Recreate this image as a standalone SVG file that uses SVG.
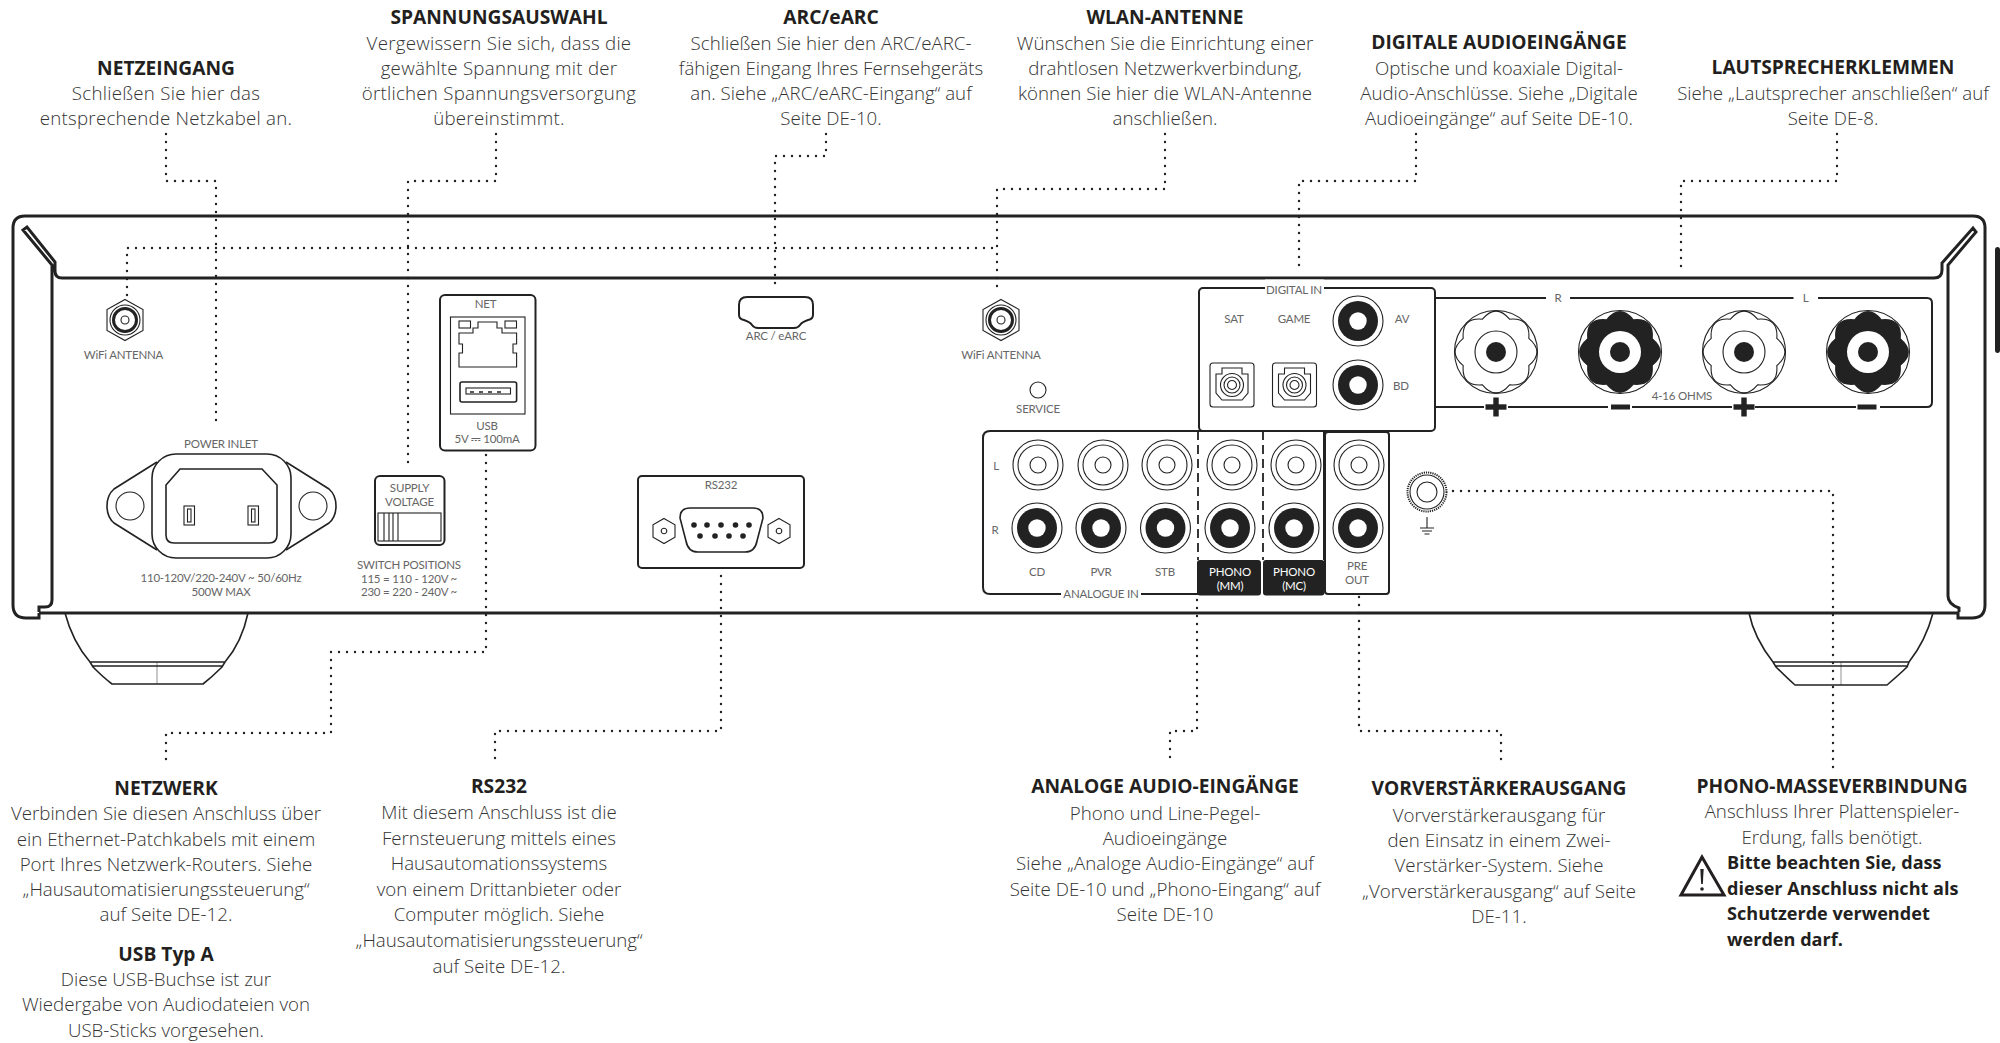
<svg xmlns="http://www.w3.org/2000/svg" width="2000" height="1043" viewBox="0 0 2000 1043">
<style>
text{font-family:"Open Sans","Noto Sans","Liberation Sans",sans-serif;text-anchor:middle}
.h{font-size:19.2px;font-weight:700;fill:#231f20}
.b{font-size:18.7px;font-weight:300;fill:#333}
.u{font-size:18.7px;font-weight:300;fill:#333;letter-spacing:.25px}
.w{font-size:18.1px;font-weight:700;fill:#231f20;text-anchor:start}
.s{font-family:"Lato","Liberation Sans",sans-serif;font-size:11.5px;fill:#666;font-weight:400;letter-spacing:-.2px}
.si{fill:#fff;font-weight:400}
.l{fill:none;stroke:#222;stroke-width:3}
.m{fill:none;stroke:#222;stroke-width:2}
.n{fill:none;stroke:#222;stroke-width:1.6}
.t{fill:none;stroke:#222;stroke-width:1.1}
.f{fill:#222;stroke:none}
.k{fill:#fff;stroke:none}
.d{fill:none;stroke:#222;stroke-width:2.4;stroke-linecap:round;stroke-dasharray:0 8}
</style>
<defs>
<g id="rcaW"><circle class="t" r="25"/><circle class="t" r="20"/><circle class="t" r="8"/></g>
<g id="rcaB"><circle class="t" r="25"/><circle class="f" r="20"/><circle class="k" r="8.7"/></g>
<path id="star" d="M32.8,-13.6Q49,0 32.8,13.6Q34.6,34.6 13.6,32.8Q0,49 -13.6,32.8Q-34.6,34.6 -32.8,13.6Q-49,0 -32.8,-13.6Q-34.6,-34.6 -13.6,-32.8Q0,-49 13.6,-32.8Q34.6,-34.6 32.8,-13.6Z"/>
<g id="termP"><circle class="t" r="41.5"/><use href="#star" class="t"/><circle class="t" r="21"/><circle class="f" r="10"/></g>
<g id="termN"><circle class="t" r="41.5"/><use href="#star" class="f"/><circle class="k" r="21"/><circle class="f" r="10"/></g>
<g id="plus"><rect class="f" x="-10.5" y="-2.7" width="21" height="5.4"/><rect class="f" x="-2.7" y="-9.5" width="5.4" height="19"/></g>
<rect id="minus" class="f" x="-9.5" y="-2.5" width="19" height="5"/>
<g id="wifi"><path class="t" d="M0,-20.5L18,-10.5V10.5L0,20.5L-18,10.5V-10.5Z"/><circle class="t" r="15"/><circle r="11.5" fill="none" stroke="#222" stroke-width="3"/><circle class="t" r="4"/></g>
<g id="opt"><rect class="t" x="-22" y="-22" width="44" height="44" rx="3"/><path class="t" d="M-10,-17H10V-11H16V8L10,15H-10L-16,8V-11H-10Z"/><circle class="t" r="11.5"/><circle class="t" r="8"/><circle class="t" r="4.5"/></g>
<g id="scr"><path class="t" d="M0,-12.5L11,-6.2V6.2L0,12.5L-11,6.2V-6.2Z"/><circle class="t" r="2.8"/></g>
</defs>

<g id="chassis">
<path class="n" d="M65,613C70,632 78,648 90,662H225C237,648 244,632 248,613M93,666H222M90,662L93,667C98,672 104,678 112,684H203C212,677 217,672 222,667L225,662"/>
<path class="n" d="M1749,613C1753,632 1762,648 1773,662H1909C1920,648 1928,632 1933,613M1776,666H1907M1773,662L1776,667C1782,673 1788,679 1795,685H1887C1894,679 1901,673 1907,667L1909,662"/>
<path d="M157,662V684M1841,662V685" stroke="#222" stroke-width=".5" fill="none"/>
<path class="l" d="M39,613V618H26Q13,618 13,605V228Q13,216 25,216H1973Q1985,216 1985,228V605Q1985,618 1972,618H1958V612"/>
<path class="l" d="M39,613H1958"/>
<path class="l" d="M39,612V607H45Q52,607 52,600V265L23,230L27,227L55,262V271Q55,278 62,278H1934Q1942,278 1942,270V263L1973,228L1976,232L1948,265V596Q1948,604 1959,608V612"/>
<rect x="1995" y="247" width="5" height="106" rx="3" fill="#222"/>
</g>

<g id="connectors">
<path class="d" d="M127,295V248H997"/>
<path class="d" d="M1165,134V189H997V291"/>
<path class="d" d="M166,134V181H216V427"/>
<path class="d" d="M496,134V181H408V463"/>
<path class="d" d="M826,134V156H775V291"/>
<path class="d" d="M1416,134V181H1299V272"/>
<path class="d" d="M1837,134V181H1681V273"/>
<path class="d" d="M486,455V652H331V733H166V765"/>
<path class="d" d="M721,576V731H495V765"/>
<path class="d" d="M1197,600V731H1170V765"/>
<path class="d" d="M1359,597V731H1501V763"/>
<path class="d" d="M1453,491H1833V768"/>
</g>

<g id="wifi-left"><use href="#wifi" x="125" y="320"/><text class="s" x="123.500" y="359">WiFi ANTENNA</text></g>
<g id="power-inlet">
<text class="s" x="221" y="448">POWER INLET</text>
<path class="n" d="M157,462L114,489Q107,495 107,506Q107,517 114,523L157,550M286,462L329,489Q336,495 336,506Q336,517 329,523L286,550"/>
<rect class="n" x="152" y="454" width="139" height="104" rx="24"/>
<path class="n" d="M180,469H262L277,485V535Q277,543 269,543H174Q166,543 166,535V485Z"/>
<circle class="t" cx="130" cy="506" r="14"/><circle class="t" cx="313" cy="506" r="14"/>
<rect class="t" x="184" y="506" width="10.500" height="19"/><rect class="t" x="187.500" y="509" width="3.500" height="13"/>
<rect class="t" x="248" y="506" width="10.500" height="19"/><rect class="t" x="251.500" y="509" width="3.500" height="13"/>
<text class="s" x="221" y="582">110-120V/220-240V ~ 50/60Hz</text><text class="s" x="221" y="596">500W MAX</text>
</g>
<g id="supply-voltage">
<rect class="m" x="375" y="476" width="69.500" height="69" rx="5"/>
<text class="s" x="409.500" y="492">SUPPLY</text><text class="s" x="409.500" y="506">VOLTAGE</text>
<rect class="t" x="378" y="513" width="63" height="28"/>
<path class="t" d="M384,513V541M389,513V541M393,513V541M398,513V541"/>
<text class="s" x="409" y="569">SWITCH POSITIONS</text><text class="s" x="409" y="583">115 = 110 - 120V ~</text><text class="s" x="409" y="596">230 = 220 - 240V ~</text>
</g>
<g id="net-usb">
<rect class="m" x="440" y="295" width="95.500" height="155.500" rx="5"/>
<text class="s" x="485.500" y="308">NET</text>
<rect class="t" x="450.500" y="317" width="74.500" height="97"/>
<path class="t" d="M459,333H473V328H478V322H497V328H502V333H516.600V344H513V353H516.600V367H459V353H462.500V344H459Z"/>
<rect class="t" x="459" y="321" width="11.500" height="7"/><rect class="t" x="505" y="321" width="11.500" height="7"/>
<rect class="n" x="460" y="382" width="56.600" height="20" rx="2"/>
<rect class="t" x="466" y="388" width="44.500" height="6"/>
<path d="M470,392H506" stroke="#222" stroke-width="1.500" stroke-dasharray="4 5" fill="none"/>
<text class="s" x="487" y="430">USB</text><text class="s" x="487" y="443">5V ⎓ 100mA</text>
</g>
<g id="hdmi">
<path class="m" d="M747,297H805Q813,297 813,305V315Q813,319 808,320Q802,322 800,325Q798,328 794,328H758Q754,328 752,325Q750,322 744,320Q739,319 739,315V305Q739,297 747,297Z"/>
<text class="s" x="776" y="340">ARC / eARC</text>
</g>
<g id="wifi-right"><use href="#wifi" x="1001" y="320"/><text class="s" x="1001" y="359">WiFi ANTENNA</text></g>
<g id="service"><circle class="t" cx="1038" cy="390" r="8"/><text class="s" x="1038" y="413">SERVICE</text></g>
<g id="rs232">
<rect class="m" x="638" y="476" width="166" height="92" rx="4"/>
<text class="s" x="721" y="489">RS232</text>
<use href="#scr" x="664" y="531"/><use href="#scr" x="779" y="531"/>
<path class="n" d="M690,508H753Q763,508 763,518L757,541Q755,552 745,552H698Q688,552 686,541L680,518Q680,508 690,508Z"/>
<g class="f"><circle cx="694" cy="525" r="2.800"/><circle cx="707" cy="525" r="2.800"/><circle cx="721" cy="525" r="2.800"/><circle cx="735.500" cy="525" r="2.800"/><circle cx="749" cy="525" r="2.800"/><circle cx="700" cy="536" r="2.800"/><circle cx="715" cy="536" r="2.800"/><circle cx="729" cy="536" r="2.800"/><circle cx="743" cy="536" r="2.800"/></g>
</g>
<g id="analogue-in">
<path class="m" d="M1198,594H990Q983,594 983,587V438Q983,431 990,431H1324V560"/>
<path d="M1198,431V560M1263,431V560" fill="none" stroke="#222" stroke-width="1.800" stroke-dasharray="9 5"/>
<rect class="k" x="1061" y="588" width="80" height="12"/>
<text class="s" x="1101" y="598">ANALOGUE IN</text>
<text class="s" x="996" y="470">L</text><text class="s" x="995" y="534">R</text>
<use href="#rcaW" x="1038" y="465"/><use href="#rcaW" x="1103" y="465"/><use href="#rcaW" x="1167" y="465"/><use href="#rcaW" x="1232" y="465"/><use href="#rcaW" x="1296" y="465"/>
<use href="#rcaB" x="1037" y="528"/><use href="#rcaB" x="1101" y="528"/><use href="#rcaB" x="1165.500" y="528"/><use href="#rcaB" x="1230" y="528"/><use href="#rcaB" x="1294" y="528"/>
<text class="s" x="1037" y="576">CD</text><text class="s" x="1101" y="576">PVR</text><text class="s" x="1165" y="576">STB</text>
<rect class="f" x="1197" y="560" width="64" height="35.500" rx="3"/><rect class="f" x="1263" y="560" width="61.500" height="35.500" rx="3"/>
<text class="s si" x="1230" y="576">PHONO</text><text class="s si" x="1230" y="590">(MM)</text>
<text class="s si" x="1294" y="576">PHONO</text><text class="s si" x="1294" y="590">(MC)</text>
</g>
<g id="pre-out">
<rect class="m" x="1325" y="432" width="64" height="162" rx="3"/>
<use href="#rcaW" x="1359" y="465"/><use href="#rcaB" x="1358" y="528"/>
<text class="s" x="1357" y="570">PRE</text><text class="s" x="1357" y="584">OUT</text>
</g>
<g id="digital-in">
<rect class="m" x="1199" y="288" width="236" height="143" rx="4"/>
<rect class="k" x="1265" y="279.500" width="59" height="16"/>
<text class="s" x="1294" y="294">DIGITAL IN</text>
<text class="s" x="1234" y="323">SAT</text><text class="s" x="1294" y="323">GAME</text><text class="s" x="1402" y="323">AV</text><text class="s" x="1401" y="390">BD</text>
<use href="#rcaB" x="1358" y="321"/><use href="#rcaB" x="1358" y="385"/>
<use href="#opt" x="1232" y="385"/><use href="#opt" x="1294.500" y="385"/>
</g>
<g id="speakers">
<path class="m" d="M1435,298H1546M1570,298H1793.500M1818,298H1927Q1932,298 1932,303V402Q1932,407 1927,407H1880M1856,407H1755M1732,407H1632M1608,407H1508M1484,407H1435"/>
<text class="s" x="1558" y="302">R</text><text class="s" x="1805.500" y="302">L</text>
<use href="#termP" x="1496" y="352"/><use href="#termN" x="1620" y="352"/><use href="#termP" x="1744" y="352"/><use href="#termN" x="1868" y="352"/>
<use href="#plus" x="1496" y="407"/><use href="#minus" x="1620.500" y="407"/><use href="#plus" x="1744" y="407"/><use href="#minus" x="1867" y="407"/>
<text class="s" x="1682" y="400">4-16 OHMS</text>
</g>
<g id="ground">
<circle cx="1427" cy="492" r="19.500" fill="none" stroke="#222" stroke-width="2" stroke-dasharray="1.200 1"/>
<circle class="t" cx="1427" cy="492" r="17"/><circle class="t" cx="1427" cy="492" r="10"/>
<path class="t" d="M1427,517V528M1420,528H1434M1422,531H1432M1424.500,534H1429.500"/>
</g>

<g id="note-netzeingang"><text class="h" x="166" y="75">NETZEINGANG</text><text class="u"><tspan x="166" y="100">Schließen Sie hier das</tspan><tspan x="166" y="125">entsprechende Netzkabel an.</tspan></text></g>
<g id="note-spannung"><text class="h" x="499" y="24">SPANNUNGSAUSWAHL</text><text class="u"><tspan x="499" y="50">Vergewissern Sie sich, dass die</tspan><tspan x="499" y="75">gewählte Spannung mit der</tspan><tspan x="499" y="100">örtlichen Spannungsversorgung</tspan><tspan x="499" y="125">übereinstimmt.</tspan></text></g>
<g id="note-arc"><text class="h" x="831" y="24">ARC/eARC</text><text class="b"><tspan x="831" y="50">Schließen Sie hier den ARC/eARC-</tspan><tspan x="831" y="75">fähigen Eingang Ihres Fernsehgeräts</tspan><tspan x="831" y="100">an. Siehe „ARC/eARC-Eingang“ auf</tspan><tspan x="831" y="125">Seite DE-10.</tspan></text></g>
<g id="note-wlan"><text class="h" x="1165" y="24">WLAN-ANTENNE</text><text class="b"><tspan x="1165" y="50">Wünschen Sie die Einrichtung einer</tspan><tspan x="1165" y="75">drahtlosen Netzwerkverbindung,</tspan><tspan x="1165" y="100">können Sie hier die WLAN-Antenne</tspan><tspan x="1165" y="125">anschließen.</tspan></text></g>
<g id="note-digital"><text class="h" x="1499" y="49">DIGITALE AUDIOEINGÄNGE</text><text class="b"><tspan x="1499" y="75">Optische und koaxiale Digital-</tspan><tspan x="1499" y="100">Audio-Anschlüsse. Siehe „Digitale</tspan><tspan x="1499" y="125">Audioeingänge“ auf Seite DE-10.</tspan></text></g>
<g id="note-lautsprecher"><text class="h" x="1833" y="74">LAUTSPRECHERKLEMMEN</text><text class="b"><tspan x="1833" y="100">Siehe „Lautsprecher anschließen“ auf</tspan><tspan x="1833" y="125">Seite DE-8.</tspan></text></g>
<g id="note-netzwerk"><text class="h" x="166" y="795">NETZWERK</text><text class="b"><tspan x="166" y="820">Verbinden Sie diesen Anschluss über</tspan><tspan x="166" y="845.500">ein Ethernet-Patchkabels mit einem</tspan><tspan x="166" y="871">Port Ihres Netzwerk-Routers. Siehe</tspan><tspan x="166" y="896">„Hausautomatisierungssteuerung“</tspan><tspan x="166" y="921">auf Seite DE-12.</tspan></text>
<text class="h" x="166" y="961">USB Typ A</text><text class="b"><tspan x="166" y="986">Diese USB-Buchse ist zur</tspan><tspan x="166" y="1011">Wiedergabe von Audiodateien von</tspan><tspan x="166" y="1037">USB-Sticks vorgesehen.</tspan></text></g>
<g id="note-rs232"><text class="h" x="499" y="793">RS232</text><text class="b"><tspan x="499" y="819">Mit diesem Anschluss ist die</tspan><tspan x="499" y="845">Fernsteuerung mittels eines</tspan><tspan x="499" y="870">Hausautomationssystems</tspan><tspan x="499" y="896">von einem Drittanbieter oder</tspan><tspan x="499" y="921">Computer möglich. Siehe</tspan><tspan x="499" y="947">„Hausautomatisierungssteuerung“</tspan><tspan x="499" y="973">auf Seite DE-12.</tspan></text></g>
<g id="note-analog"><text class="h" x="1165" y="793">ANALOGE AUDIO-EINGÄNGE</text><text class="b"><tspan x="1165" y="820">Phono und Line-Pegel-</tspan><tspan x="1165" y="845">Audioeingänge</tspan><tspan x="1165" y="870">Siehe „Analoge Audio-Eingänge“ auf</tspan><tspan x="1165" y="896">Seite DE-10 und „Phono-Eingang“ auf</tspan><tspan x="1165" y="921">Seite DE-10</tspan></text></g>
<g id="note-vorverstaerker"><text class="h" x="1499" y="795">VORVERSTÄRKERAUSGANG</text><text class="b"><tspan x="1499" y="822">Vorverstärkerausgang für</tspan><tspan x="1499" y="847">den Einsatz in einem Zwei-</tspan><tspan x="1499" y="872">Verstärker-System. Siehe</tspan><tspan x="1499" y="898">„Vorverstärkerausgang“ auf Seite</tspan><tspan x="1499" y="923">DE-11.</tspan></text></g>
<g id="note-phono"><text class="h" x="1832" y="793">PHONO-MASSEVERBINDUNG</text><text class="b"><tspan x="1832" y="818">Anschluss Ihrer Plattenspieler-</tspan><tspan x="1832" y="844">Erdung, falls benötigt.</tspan></text>
<path d="M1702,857L1681,895H1724Z" fill="none" stroke="#231f20" stroke-width="3" stroke-linejoin="miter"/><path class="f" d="M1700.300,869H1703.700L1702.800,884H1701.200Z"/><circle class="f" cx="1702" cy="889" r="1.800"/>
<text class="w"><tspan x="1727" y="869">Bitte beachten Sie, dass</tspan><tspan x="1727" y="895">dieser Anschluss nicht als</tspan><tspan x="1727" y="920">Schutzerde verwendet</tspan><tspan x="1727" y="946">werden darf.</tspan></text></g>
</svg>
